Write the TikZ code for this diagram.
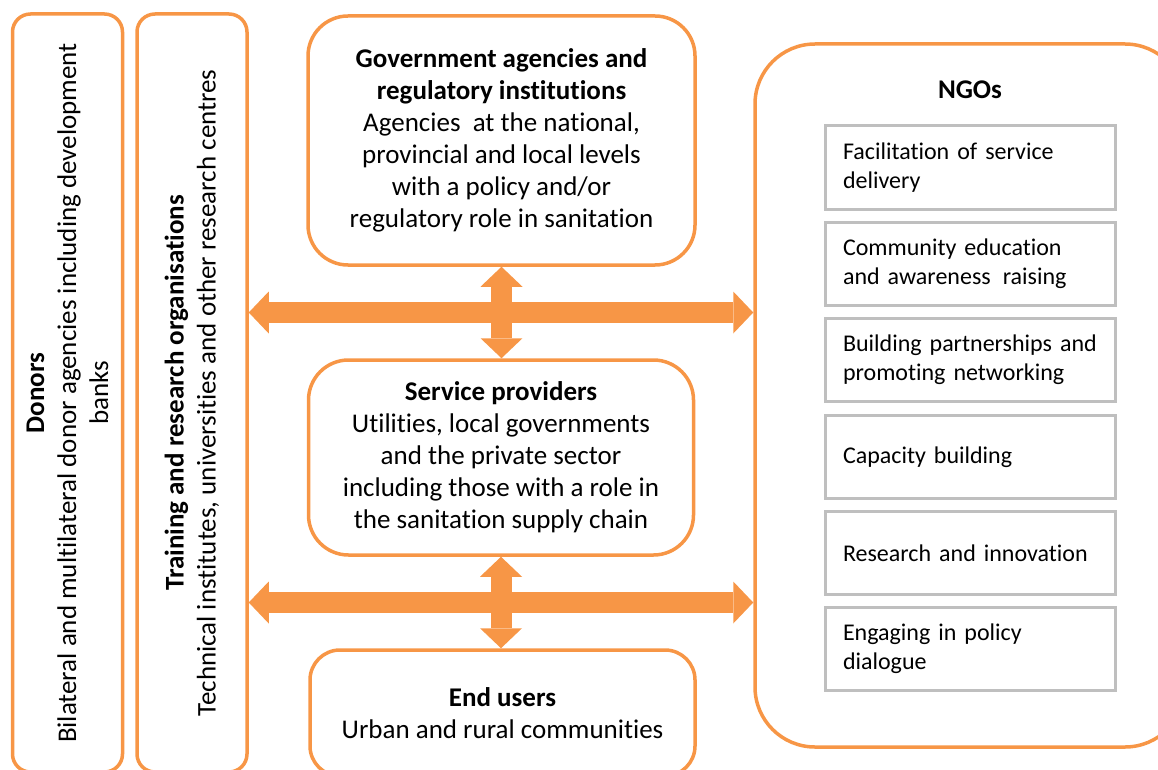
\documentclass[tikz,border=0pt]{standalone}
\usepackage{fontspec}
\setmainfont{Carlito}[Ligatures=NoCommon]
\usepackage{xcolor}
\usetikzlibrary{positioning,calc,arrows.meta}
\definecolor{ngoorange}{HTML}{F79646}
\definecolor{boxgrey}{HTML}{BFBFBF}

\begin{document}
\begin{tikzpicture}[x=1pt,y=-1pt,
  actor/.style={draw=ngoorange, line width=3.5pt, rounded corners=40pt, align=center,
    inner sep=0pt, font=\fontsize{27}{32}\selectfont},
  side/.style={actor, rotate=90, rounded corners=18pt, minimum width=758pt, minimum height=110pt},
  task/.style={draw=boxgrey, line width=3pt, minimum width=290pt, minimum height=83pt,
    text width=254pt, align=left, inner sep=0pt, font=\fontsize{24}{29}\selectfont},
  tip/.tip={Triangle[length=20pt,width=42pt,line width=0pt]},
  link/.style={ngoorange, line width=21pt, tip-tip}]
\useasboundingbox (0,0) rectangle (1158,770);

% side boxes
\node[side] (donors) at (67.5,393) {\textbf{Donors}\\Bilateral and multilateral donor agencies including development\\banks};
\node[side] (training) at (192,393) {\textbf{Training and research organisations}\\Technical institutes, universities and other research centres};

% middle column
\node[actor, minimum width=387pt, minimum height=249pt] (gov) at (501.5,140.5)
  {\textbf{Government agencies and}\\\textbf{regulatory institutions}\\Agencies\ \ at the national,\\provincial and local levels\\with a policy and/or\\regulatory role in sanitation};
\node[actor, minimum width=385pt, minimum height=195pt] (sp) at (501,457.5)
  {\textbf{Service providers}\\Utilities, local governments\\and the private sector\\including those with a role in\\the sanitation supply chain};
\node[actor, rounded corners=30pt, minimum width=385pt, minimum height=126pt] (eu) at (502.5,713)
  {\textbf{End users}\\Urban and rural communities};

% NGOs
\node[actor, rounded corners=60pt, minimum width=430pt, minimum height=703pt] (ngo) at (970,395.5) {};
\node[font=\fontsize{27}{32}\selectfont\bfseries] (ngotitle) at (970,90) {NGOs};
\foreach \y/\txt [count=\i] in {167.5/{Facilitation of service\\delivery},
    263.5/{Community education\\and awareness\,\ raising},
    360/{Building partnerships and\\promoting networking},
    457/{Capacity building},
    553/{Research and innovation},
    649/{Engaging in policy\\dialogue}}
  \node[task] (task\i) at (970,\y) {\txt};

% arrows
\coordinate (mid1) at ($(gov.south)!0.5!(sp.north)$);
\coordinate (mid2) at ($(sp.south)!0.5!(eu.north)$);
\draw[link] (mid1 -| training.south) -- (mid1 -| ngo.west);
\draw[link] (gov.south) -- (gov.south |- sp.north);
\draw[link] (mid2 -| training.south) -- (mid2 -| ngo.west);
\draw[link] (sp.south) -- (sp.south |- eu.north);
\end{tikzpicture}
\end{document}
